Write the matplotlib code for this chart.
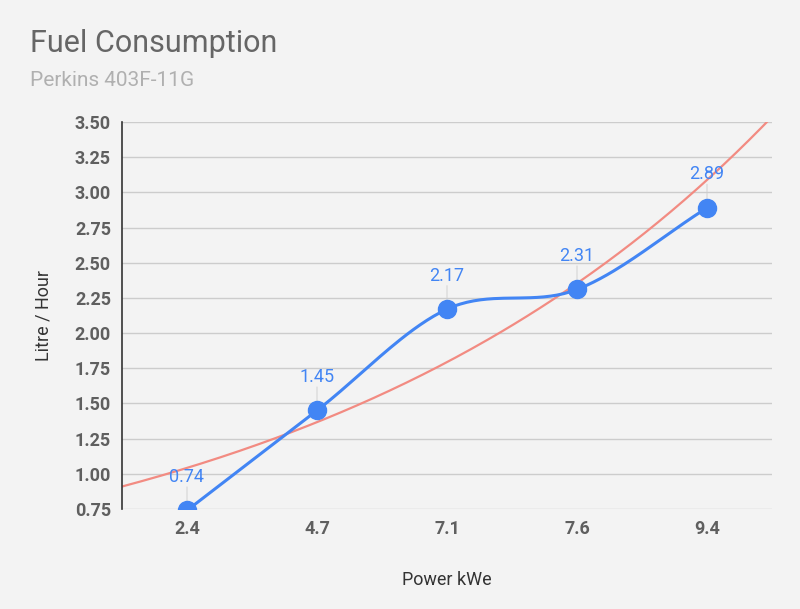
import numpy as np
import matplotlib
matplotlib.use("Agg")
import matplotlib.pyplot as plt

# data
power_kwe = ["2.4", "4.7", "7.1", "7.6", "9.4"]
litre_hour = [0.74, 1.45, 2.17, 2.31, 2.89]

# exponential trendline y = a * exp(b * i), i = category index
trend_a = 1.042
trend_b = 0.2716

y_ticks = [0.75, 1.00, 1.25, 1.50, 1.75, 2.00, 2.25, 2.50, 2.75, 3.00, 3.25, 3.50]

plt.rcParams['font.family'] = ['Roboto', 'DejaVu Sans']

bg = '#f3f3f3'
blue = '#4285f4'
red = '#f28b82'

fig = plt.figure(figsize=(8, 6.09), dpi=100, facecolor=bg)
ax = fig.add_axes([0.1525, 0.1642, 0.8125, 0.6355])
ax.set_facecolor(bg)

x = np.arange(len(power_kwe))
y = np.array(litre_hour)


def catmull_rom(px, py, n=40):
    # smooth curve through the points, ends padded by reflection
    px = np.concatenate([[2 * px[0] - px[1]], px, [2 * px[-1] - px[-2]]])
    py = np.concatenate([[2 * py[0] - py[1]], py, [2 * py[-1] - py[-2]]])
    xs, ys = [], []
    for i in range(1, len(px) - 2):
        t = np.linspace(0, 1, n)
        for arr, out in ((px, xs), (py, ys)):
            p0, p1, p2, p3 = arr[i - 1], arr[i], arr[i + 1], arr[i + 2]
            m1 = (p2 - p0) / 2
            m2 = (p3 - p1) / 2
            h00 = 2 * t**3 - 3 * t**2 + 1
            h10 = t**3 - 2 * t**2 + t
            h01 = -2 * t**3 + 3 * t**2
            h11 = t**3 - t**2
            out.append(h00 * p1 + h10 * m1 + h01 * p2 + h11 * m2)
    return np.concatenate(xs), np.concatenate(ys)


# trendline
tx = np.linspace(-0.5, 4.5, 200)
ax.plot(tx, trend_a * np.exp(trend_b * tx), color=red, lw=1.6, zorder=2)

# smoothed series
sx, sy = catmull_rom(x.astype(float), y)
ax.plot(sx, sy, color=blue, lw=2.2, zorder=3, solid_capstyle='round')
ax.plot(x, y, 'o', color=blue, ms=13, zorder=4, clip_on=True)

# data labels with thin leader lines
for xi, yi in zip(x, y):
    ax.annotate('', (xi, yi), xytext=(0, 17), textcoords='offset points',
                arrowprops=dict(arrowstyle='-', color='#cccccc', lw=0.6,
                                shrinkA=0, shrinkB=6),
                annotation_clip=False, zorder=1)
    ax.annotate(f"{yi:.2f}", (xi, yi), xytext=(0, 24), textcoords='offset points',
                ha='center', va='center', color=blue, fontsize=13, zorder=5,
                annotation_clip=False)

ax.set_xlim(-0.5, 4.5)
ax.set_ylim(0.75, 3.5)
ax.set_xticks(x)
ax.set_xticklabels(power_kwe)
ax.set_yticks(y_ticks)
ax.set_yticklabels([f"{v:.2f}" for v in y_ticks])
ax.tick_params(length=0, labelsize=13, colors='#5f5f5f', pad=8)
for lbl in ax.get_xticklabels() + ax.get_yticklabels():
    lbl.set_fontweight('bold')
ax.grid(axis='y', color='#cccccc', lw=1)
ax.set_axisbelow(True)
for s in ['top', 'right', 'bottom']:
    ax.spines[s].set_visible(False)
ax.spines['left'].set_color('#333333')
ax.spines['left'].set_linewidth(1.2)

ax.set_xlabel('Power kWe', fontsize=13, color='#333333', labelpad=24)
ax.set_ylabel('Litre / Hour', fontsize=13, color='#333333', labelpad=16)

fig.text(30 / 800, 1 - 44 / 609, 'Fuel Consumption', fontsize=22, color='#666666',
         ha='left', va='center')
fig.text(30 / 800, 1 - 80 / 609, 'Perkins 403F-11G', fontsize=15, color='#b0b0b0',
         ha='left', va='center')

fig.savefig('out.png', dpi=100, facecolor=bg)
